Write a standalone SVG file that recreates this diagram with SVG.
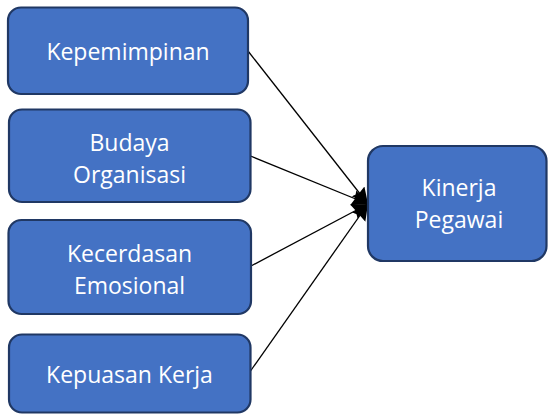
<svg xmlns="http://www.w3.org/2000/svg" width="548" height="414" viewBox="0 0 548 414">
<defs>
<style>
.box{fill:#4472C4;stroke:#203864;stroke-width:2.2}
.lbl{font-family:"Open Sans","Liberation Sans",sans-serif;font-size:23px;fill:#FFFFFF;text-anchor:middle}
.conn{stroke:#000;stroke-width:1.3;fill:none;marker-end:url(#ah)}
</style>
<marker id="ah" markerUnits="userSpaceOnUse" markerWidth="20" markerHeight="18" refX="16" refY="8" orient="auto">
<path d="M0,0 L16,8 L0,16 L2,8 Z" fill="#000"/>
</marker>
</defs>
<rect width="548" height="414" fill="#FFFFFF"/>
<g id="connectors">
<line class="conn" x1="248" y1="51" x2="368" y2="204"/>
<line class="conn" x1="250.5" y1="156" x2="368" y2="204"/>
<line class="conn" x1="251" y1="266" x2="368" y2="204"/>
<line class="conn" x1="250.5" y1="371" x2="368" y2="204"/>
</g>
<g id="kepemimpinan">
<rect class="box" x="8" y="7.5" width="240" height="86.5" rx="13"/>
<text class="lbl" x="128" y="59.5">Kepemimpinan</text>
</g>
<g id="budaya-organisasi">
<rect class="box" x="9" y="109.5" width="241.5" height="92.5" rx="13"/>
<text class="lbl" x="129.5" y="150.5">Budaya</text>
<text class="lbl" x="129.5" y="182.5">Organisasi</text>
</g>
<g id="kecerdasan-emosional">
<rect class="box" x="8.5" y="220" width="242.5" height="94" rx="13"/>
<text class="lbl" x="129.5" y="262">Kecerdasan</text>
<text class="lbl" x="129.5" y="293.5">Emosional</text>
</g>
<g id="kepuasan-kerja">
<rect class="box" x="9" y="334.5" width="241.5" height="78" rx="13"/>
<text class="lbl" x="129.5" y="383">Kepuasan Kerja</text>
</g>
<g id="kinerja-pegawai">
<rect class="box" x="368" y="146" width="178.5" height="115" rx="15"/>
<text class="lbl" x="459" y="196">Kinerja</text>
<text class="lbl" x="459" y="228">Pegawai</text>
</g>
</svg>
